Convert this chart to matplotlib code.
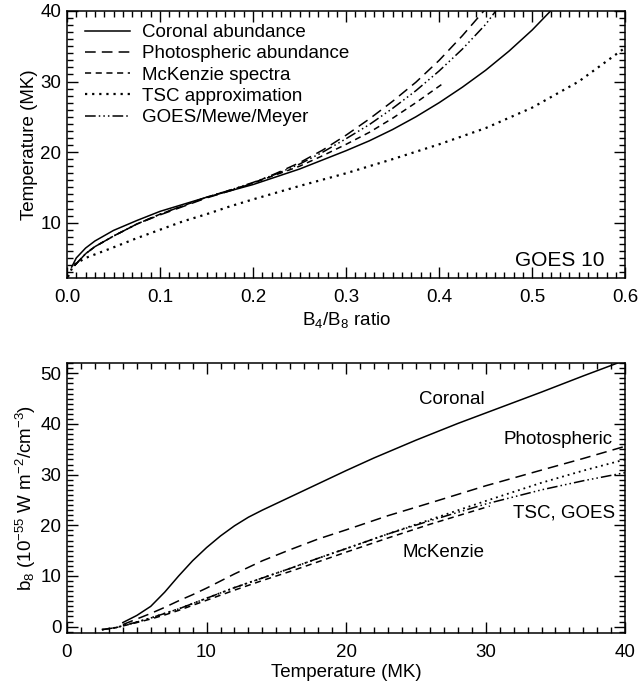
import matplotlib
matplotlib.use('Agg')
import matplotlib.pyplot as plt
from matplotlib import font_manager
from matplotlib.ticker import MultipleLocator, FormatStrFormatter

# pick an Arial-like font
names = {f.name for f in font_manager.fontManager.ttflist}
font = 'Liberation Sans' if 'Liberation Sans' in names else 'DejaVu Sans'
plt.rcParams['font.family'] = [font, 'DejaVu Sans']
plt.rcParams['mathtext.default'] = 'regular'
plt.rcParams['font.size'] = 13.5

# Top panel: temperature (MK) vs B4/B8 ratio, GOES 10
ratio_cor = [0.005, 0.01, 0.02, 0.03, 0.05, 0.075, 0.1, 0.125, 0.15, 0.175, 0.2, 0.225,
             0.25, 0.275, 0.3, 0.325, 0.35, 0.375, 0.4, 0.425, 0.45, 0.475, 0.5, 0.522]
temp_cor = [3.7, 5.0, 6.4, 7.4, 8.9, 10.3, 11.6, 12.6, 13.6, 14.5, 15.4, 16.5,
            17.6, 18.9, 20.2, 21.6, 23.2, 25.0, 27.0, 29.2, 31.6, 34.3, 37.3, 40.3]

ratio_pho = [0.008, 0.02, 0.03, 0.05, 0.075, 0.1, 0.125, 0.15, 0.175, 0.2, 0.225,
             0.25, 0.275, 0.3, 0.325, 0.35, 0.375, 0.4, 0.425, 0.45]
temp_pho = [3.9, 5.6, 6.6, 8.1, 9.8, 11.1, 12.3, 13.5, 14.5, 15.6, 17.0,
            18.5, 20.3, 22.4, 24.7, 27.2, 29.9, 33.0, 36.5, 40.3]

ratio_mck = [0.008, 0.02, 0.03, 0.05, 0.075, 0.1, 0.125, 0.15, 0.175, 0.2, 0.225,
             0.25, 0.275, 0.3, 0.325, 0.35, 0.375, 0.405]
temp_mck = [3.9, 5.6, 6.6, 8.1, 9.8, 11.2, 12.4, 13.6, 14.6, 15.6, 16.8,
            18.0, 19.5, 21.1, 22.8, 24.8, 27.0, 29.8]

ratio_tsc = [0.001, 0.007, 0.02, 0.05, 0.075, 0.1, 0.125, 0.15, 0.175, 0.2, 0.25,
             0.3, 0.35, 0.4, 0.45, 0.5, 0.55, 0.6]
temp_tsc = [2.3, 4.0, 5.0, 6.5, 7.8, 9.0, 10.2, 11.2, 12.3, 13.3, 15.2,
            17.0, 19.0, 21.1, 23.4, 26.3, 30.0, 34.8]

ratio_goes = [0.008, 0.02, 0.03, 0.05, 0.075, 0.1, 0.125, 0.15, 0.175, 0.2, 0.225,
              0.25, 0.275, 0.3, 0.325, 0.35, 0.375, 0.4, 0.425, 0.45, 0.462]
temp_goes = [3.9, 5.6, 6.6, 8.1, 9.8, 11.2, 12.4, 13.6, 14.6, 15.7, 16.9,
             18.3, 20.0, 21.9, 23.9, 26.2, 28.7, 31.5, 34.6, 38.1, 40.2]

# Bottom panel: b8 (1e-55 W m^-2 / cm^-3) vs temperature (MK)
t_cor = [4.0, 5, 6, 7, 8, 9, 10, 11, 12, 13, 14, 16, 18, 20, 22, 25, 28, 31, 34, 37, 40]
b8_cor = [0.8, 2.2, 4.0, 6.8, 10.0, 13.0, 15.6, 17.9, 19.9, 21.6, 23.0, 25.6, 28.2, 30.8,
          33.3, 36.8, 40.1, 43.2, 46.3, 49.5, 52.6]

t_pho = [4.0, 5, 6, 7, 8, 9, 10, 12, 14, 16, 18, 20, 23, 26, 30, 34, 37, 40]
b8_pho = [0.4, 1.5, 2.6, 3.8, 5.1, 6.3, 7.6, 10.4, 13.0, 15.2, 17.3, 19.1, 21.9, 24.4,
          27.8, 30.9, 33.2, 35.6]

t_tsc = [2.5, 3.5, 5, 6, 7, 8, 10, 12, 14, 16, 18, 20, 23, 26, 30, 34, 37, 40]
b8_tsc = [-0.6, -0.2, 0.9, 1.7, 2.6, 3.5, 5.6, 7.7, 9.6, 11.5, 13.5, 15.4, 18.3, 21.1,
          24.8, 28.4, 30.8, 33.0]
b8_goes = [-0.6, -0.2, 0.9, 1.7, 2.6, 3.5, 5.6, 7.7, 9.6, 11.5, 13.5, 15.4, 18.3, 20.9,
           24.2, 27.0, 28.8, 30.4]

t_mck = [2.5, 3.5, 5, 6, 7, 8, 10, 12, 14, 16, 18, 20, 23, 26, 30.3]
b8_mck = [-0.6, -0.2, 0.8, 1.5, 2.3, 3.2, 5.2, 7.2, 9.1, 10.9, 12.8, 14.7, 17.5, 20.2, 23.8]

ls_cor = '-'
ls_pho = (0, (7, 4))
ls_mck = (0, (4, 3))
ls_tsc = (0, (1, 2.2))
ls_goes = (0, (7, 2, 1, 2, 1, 2, 1, 2))
lw = 1.1

fig = plt.figure(figsize=(6.38, 6.84), dpi=100)
ax1 = fig.add_axes([0.105, 0.594, 0.875, 0.39])
ax2 = fig.add_axes([0.105, 0.075, 0.875, 0.394])

ax1.plot(ratio_cor, temp_cor, color='k', ls=ls_cor, lw=lw, label='Coronal abundance')
ax1.plot(ratio_pho, temp_pho, color='k', ls=ls_pho, lw=lw, label='Photospheric abundance')
ax1.plot(ratio_mck, temp_mck, color='k', ls=ls_mck, lw=lw, label='McKenzie spectra')
ax1.plot(ratio_tsc, temp_tsc, color='k', ls=ls_tsc, lw=1.6, label='TSC approximation')
ax1.plot(ratio_goes, temp_goes, color='k', ls=ls_goes, lw=lw, label='GOES/Mewe/Meyer')
ax1.set_xlim(0, 0.6)
ax1.set_ylim(2.2, 40)
ax1.xaxis.set_major_locator(MultipleLocator(0.1))
ax1.xaxis.set_minor_locator(MultipleLocator(0.01))
ax1.yaxis.set_major_locator(MultipleLocator(10))
ax1.yaxis.set_minor_locator(MultipleLocator(1))
ax1.xaxis.set_major_formatter(FormatStrFormatter('%.1f'))
ax1.set_xlabel('B$_4$/B$_8$ ratio', labelpad=3)
ax1.set_ylabel('Temperature (MK)', labelpad=2)
ax1.legend(loc='upper left', bbox_to_anchor=(0.0085, 1.0), frameon=False,
           handlelength=2.4, handletextpad=0.65, labelspacing=0.22,
           borderaxespad=0.5, borderpad=0.2, fontsize=13.5)
ax1.text(0.962, 0.03, 'GOES 10', transform=ax1.transAxes, ha='right', va='bottom', fontsize=15)

ax2.plot(t_cor, b8_cor, color='k', ls=ls_cor, lw=lw)
ax2.plot(t_pho, b8_pho, color='k', ls=ls_pho, lw=lw)
ax2.plot(t_mck, b8_mck, color='k', ls=ls_mck, lw=lw)
ax2.plot(t_tsc, b8_tsc, color='k', ls=ls_tsc, lw=1.3)
ax2.plot(t_tsc, b8_goes, color='k', ls=ls_goes, lw=lw)
ax2.set_xlim(0, 40)
ax2.set_ylim(-1.2, 52)
ax2.xaxis.set_major_locator(MultipleLocator(10))
ax2.xaxis.set_minor_locator(MultipleLocator(1))
ax2.yaxis.set_major_locator(MultipleLocator(10))
ax2.yaxis.set_minor_locator(MultipleLocator(1))
ax2.set_xlabel('Temperature (MK)', labelpad=2)
ax2.set_ylabel('b$_8$ (10$^{-55}$ W m$^{-2}$/cm$^{-3}$)', labelpad=2)
ax2.text(27.6, 44.9, 'Coronal', ha='center', va='center')
ax2.text(39.1, 37.0, 'Photospheric', ha='right', va='center')
ax2.text(39.3, 22.4, 'TSC, GOES', ha='right', va='center')
ax2.text(27.0, 14.6, 'McKenzie', ha='center', va='center')

for ax in (ax1, ax2):
    ax.tick_params(which='both', direction='in', top=True, right=True, width=1)
    ax.tick_params(which='major', length=8, pad=8)
    ax.tick_params(axis='y', which='major', pad=4)
    ax.tick_params(which='minor', length=4)
    for s in ax.spines.values():
        s.set_linewidth(1.1)

fig.savefig('out.png', dpi=100)
